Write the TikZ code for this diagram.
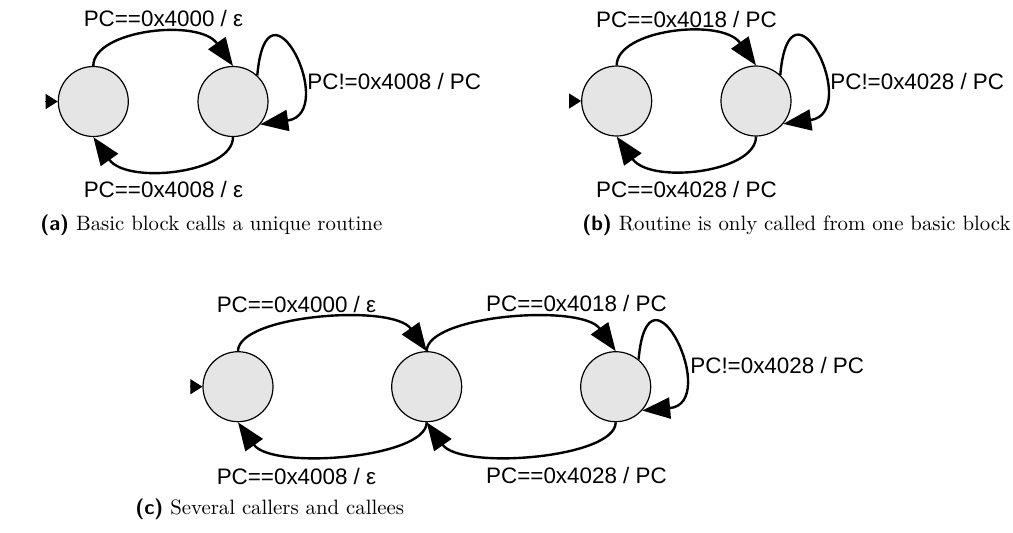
\documentclass[tikz,border=0pt]{standalone}
\usepackage{fontspec}
\newfontfamily\labfont{Liberation Sans}
\usetikzlibrary{arrows.meta,calc}
\tikzset{
  state/.style={circle, draw, line width=0.6pt, fill=gray!20, minimum size=35pt, inner sep=0pt},
  trans/.style={line width=1.2pt, -{Triangle[length=14pt,width=10.5pt]}},
  initarr/.style={line width=0.4pt, -{Triangle[length=6pt,width=7.5pt]}},
  lbl/.style={font=\labfont\fontsize{11.2}{13}\selectfont, inner sep=0pt},
  capt/.style={font=\fontsize{10.4}{12.5}\selectfont, inner sep=0pt, anchor=base west}
}
\begin{document}
\begin{tikzpicture}[x=0.5pt,y=0.5pt]
\useasboundingbox (0,0) rectangle (1013,-532);
% ---------- (a) ----------
\node[state] (a1) at (93.3,-101.5) {};
\node[state] (a2) at (233,-101.5) {};
\coordinate (a0) at ($(a1.west)+(-12.5,0)$);
\draw[initarr] (a0) -- (a1.west);
\draw[trans] (a1.north) .. controls +(0,36) and +(-34,48) .. (a2.north);
\draw[trans] (a2.south) .. controls +(0,-36) and +(34,-48) .. (a1.south);
\draw[trans] (a2.47) .. controls +(85:110) and +(8:80) .. (a2.-40);
\node[lbl, anchor=base] (la1) at (163.5,-26.7) {PC==0x4000 / ε};
\node[lbl, anchor=base] (la2) at (163.5,-197.5) {PC==0x4008 / ε};
\node[lbl, anchor=base west] (la3) at (307,-89.3) {PC!=0x4008 / PC};
\node[capt] (capa) at (40,-230) {{\sffamily\bfseries (a)} Basic block calls a unique routine};
% ---------- (b) ----------
\node[state] (b1) at (616.7,-101) {};
\node[state] (b2) at (756,-101) {};
\coordinate (b0) at ($(b1.west)+(-12.5,0)$);
\draw[initarr] (b0) -- (b1.west);
\draw[trans] (b1.north) .. controls +(0,36) and +(-34,48) .. (b2.north);
\draw[trans] (b2.south) .. controls +(0,-36) and +(34,-48) .. (b1.south);
\draw[trans] (b2.47) .. controls +(85:110) and +(8:80) .. (b2.-40);
\node[lbl, anchor=base] (lb1) at (686.5,-27) {PC==0x4018 / PC};
\node[lbl, anchor=base] (lb2) at (686.5,-197.5) {PC==0x4028 / PC};
\node[lbl, anchor=base west] (lb3) at (830,-89) {PC!=0x4028 / PC};
\node[capt] (capb) at (582,-230) {{\sffamily\bfseries (b)} Routine is only called from one basic block};
% ---------- (c) ----------
\node[state] (c1) at (238,-386.7) {};
\node[state] (c2) at (426.7,-386.7) {};
\node[state] (c3) at (615.7,-386.7) {};
\coordinate (c0) at ($(c1.west)+(-12.5,0)$);
\draw[initarr] (c0) -- (c1.west);
\draw[trans] (c1.north) .. controls +(0,36) and +(-34,48) .. (c2.north);
\draw[trans] (c2.north) .. controls +(0,36) and +(-34,48) .. (c3.north);
\draw[trans] (c3.south) .. controls +(0,-36) and +(34,-48) .. (c2.south);
\draw[trans] (c2.south) .. controls +(0,-36) and +(34,-48) .. (c1.south);
\draw[trans] (c3.50) .. controls +(85:110) and +(5:80) .. (c3.-42);
\node[lbl, anchor=base] (lc1) at (296.5,-312) {PC==0x4000 / ε};
\node[lbl, anchor=base] (lc2) at (576.5,-311.7) {PC==0x4018 / PC};
\node[lbl, anchor=base] (lc3) at (296.5,-484) {PC==0x4008 / ε};
\node[lbl, anchor=base] (lc4) at (576.5,-483.5) {PC==0x4028 / PC};
\node[lbl, anchor=base west] (lc5) at (690,-373.3) {PC!=0x4028 / PC};
\node[capt] (capc) at (135,-514) {{\sffamily\bfseries (c)} Several callers and callees};
\end{tikzpicture}
\end{document}
